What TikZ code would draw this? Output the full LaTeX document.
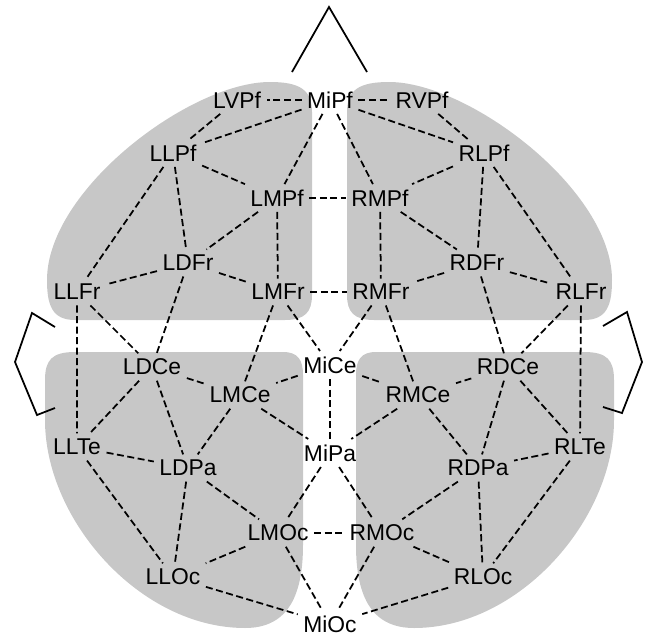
\documentclass[tikz,border=0pt]{standalone}
\usepackage{fontspec}
\setmainfont{Liberation Sans}

\begin{document}
\begin{tikzpicture}[x=0.02cm,y=-0.02cm,
    lobe/.style={fill=black!22,draw=none},
    site/.style={font=\fontsize{13}{15}\selectfont,inner sep=3pt},
    link/.style={dash pattern=on 4pt off 2pt,line width=1pt},
    head/.style={line width=1pt}]

    \useasboundingbox (0,0) rectangle (646,636);

    % lobes
    \fill[lobe] (312,295) -- (312,112) .. controls (312,90) and (300,82) .. (270,82) .. controls (190,82) and (47,190) .. (47,280) .. controls (47,305) and (52,320) .. (75,320) -- (285,320) .. controls (305,320) and (312,312) .. (312,295) -- cycle;
    \fill[lobe] (347,295) -- (347,112) .. controls (347,90) and (359,82) .. (389,82) .. controls (469,82) and (612,190) .. (612,280) .. controls (612,305) and (607,320) .. (584,320) -- (374,320) .. controls (354,320) and (347,312) .. (347,295) -- cycle;
    \fill[lobe] (303,375) -- (303,545) .. controls (303,600) and (285,628) .. (245,628) .. controls (140,628) and (45,520) .. (45,420) -- (45,380) .. controls (45,360) and (52,352) .. (75,352) -- (283,352) .. controls (298,352) and (303,360) .. (303,375) -- cycle;
    \fill[lobe] (356,375) -- (356,545) .. controls (356,600) and (374,628) .. (414,628) .. controls (519,628) and (614,520) .. (614,420) -- (614,380) .. controls (614,360) and (607,352) .. (584,352) -- (376,352) .. controls (361,352) and (356,360) .. (356,375) -- cycle;

    % nose and ears
    \draw[head] (292,72) -- (329,7) -- (367,72);
    \draw[head] (55,327) -- (32,313) -- (15,362) -- (37,415) -- (55,408);
    \draw[head] (603,326) -- (627,312) -- (642,362) -- (622,413) -- (603,407);

    % electrodes
    \node[site] (MiPf) at (330,100) {MiPf};
    \node[site] (LVPf) at (237,100) {LVPf};
    \node[site] (RVPf) at (422,100) {RVPf};
    \node[site] (LLPf) at (173,153) {LLPf};
    \node[site] (RLPf) at (484,153) {RLPf};
    \node[site] (LMPf) at (277,198) {LMPf};
    \node[site] (RMPf) at (380,198) {RMPf};
    \node[site] (LDFr) at (188,263) {LDFr};
    \node[site] (RDFr) at (477,263) {RDFr};
    \node[site] (LLFr) at (77,292) {LLFr};
    \node[site] (RLFr) at (581,292) {RLFr};
    \node[site] (LMFr) at (278,292) {LMFr};
    \node[site] (RMFr) at (381,292) {RMFr};

    \node[site] (MiCe) at (330,365) {MiCe};
    \node[site] (LDCe) at (152,367) {LDCe};
    \node[site] (RDCe) at (508,367) {RDCe};
    \node[site] (LMCe) at (240,395) {LMCe};
    \node[site] (RMCe) at (418,395) {RMCe};
    \node[site] (LLTe) at (77,447) {LLTe};
    \node[site] (RLTe) at (580,447) {RLTe};
    \node[site] (MiPa) at (330,453) {MiPa};
    \node[site] (LDPa) at (188,468) {LDPa};
    \node[site] (RDPa) at (478,468) {RDPa};
    \node[site] (LMOc) at (278,533) {LMOc};
    \node[site] (RMOc) at (382,533) {RMOc};
    \node[site] (LLOc) at (173,577) {LLOc};
    \node[site] (RLOc) at (483,577) {RLOc};
    \node[site] (MiOc) at (330,624) {MiOc};

    % front links
    \draw[link] (MiPf) -- (LVPf) (MiPf) -- (RVPf);
    \draw[link] (MiPf) -- (LLPf) (MiPf) -- (RLPf);
    \draw[link] (MiPf) -- (LMPf) (MiPf) -- (RMPf);
    \draw[link] (LVPf) -- (LLPf) (RVPf) -- (RLPf);
    \draw[link] (LLPf) -- (LMPf) (RLPf) -- (RMPf);
    \draw[link] (LLPf) -- (LDFr) (RLPf) -- (RDFr);
    \draw[link] (LLPf) -- (LLFr) (RLPf) -- (RLFr);
    \draw[link] (LMPf) -- (LDFr) (RMPf) -- (RDFr);
    \draw[link] (LMPf) -- (LMFr) (RMPf) -- (RMFr);
    \draw[link] (LMPf) -- (RMPf);
    \draw[link] (LDFr) -- (LLFr) (RDFr) -- (RLFr);
    \draw[link] (LDFr) -- (LMFr) (RDFr) -- (RMFr);
    \draw[link] (LMFr) -- (RMFr);

    % front to back
    \draw[link] (LLFr) -- (LDCe) (RLFr) -- (RDCe);
    \draw[link] (LLFr) -- (LLTe) (RLFr) -- (RLTe);
    \draw[link] (LDFr) -- (LDCe) (RDFr) -- (RDCe);
    \draw[link] (LMFr) -- (LMCe) (RMFr) -- (RMCe);
    \draw[link] (LMFr) -- (MiCe) (RMFr) -- (MiCe);

    % back links
    \draw[link] (MiCe) -- (LMCe) (MiCe) -- (RMCe);
    \draw[link] (MiCe) -- (MiPa);
    \draw[link] (LDCe) -- (LMCe) (RDCe) -- (RMCe);
    \draw[link] (LDCe) -- (LLTe) (RDCe) -- (RLTe);
    \draw[link] (LDCe) -- (LDPa) (RDCe) -- (RDPa);
    \draw[link] (LMCe) -- (LDPa) (RMCe) -- (RDPa);
    \draw[link] (LMCe) -- (MiPa) (RMCe) -- (MiPa);
    \draw[link] (LLTe) -- (LDPa) (RLTe) -- (RDPa);
    \draw[link] (LLTe) -- (LLOc) (RLTe) -- (RLOc);
    \draw[link] (LDPa) -- (LLOc) (RDPa) -- (RLOc);
    \draw[link] (LDPa) -- (LMOc) (RDPa) -- (RMOc);
    \draw[link] (MiPa) -- (LMOc) (MiPa) -- (RMOc);
    \draw[link] (LMOc) -- (RMOc);
    \draw[link] (LMOc) -- (LLOc) (RMOc) -- (RLOc);
    \draw[link] (LMOc) -- (MiOc) (RMOc) -- (MiOc);
    \draw[link] (LLOc) -- (MiOc) (RLOc) -- (MiOc);

\end{tikzpicture}
\end{document}
